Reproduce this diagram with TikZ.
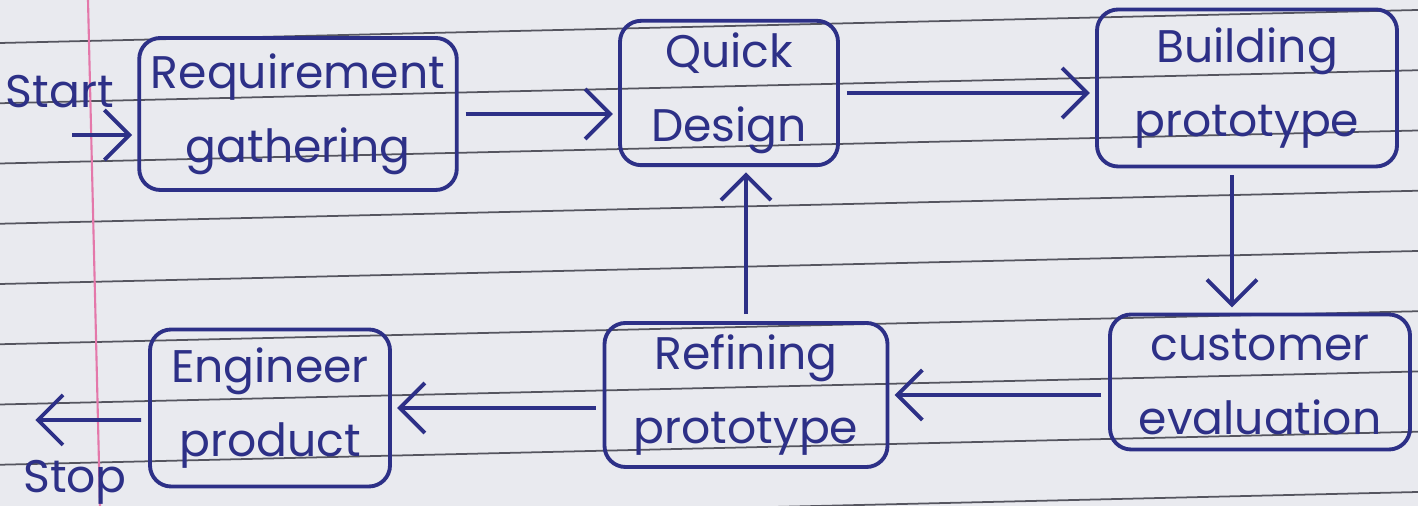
\documentclass[tikz,border=0pt]{standalone}
\usepackage{fontspec}
\setmainfont{Poppins}
\usetikzlibrary{positioning,arrows.meta}
\definecolor{ink}{RGB}{45,48,135}
\definecolor{paper}{RGB}{233,234,239}
\definecolor{rule}{RGB}{85,85,95}
\definecolor{margin}{RGB}{228,120,170}

\begin{document}
\begin{tikzpicture}[
  block/.style={rectangle, rounded corners=6pt, draw=ink, line width=1.1pt, align=center, text=ink, minimum width=2.8cm, minimum height=1.4cm, font=\fontsize{13}{21}\selectfont},
  tag/.style={text=ink, font=\fontsize{13}{16}\selectfont},
  wire/.style={draw=ink, line width=1.1pt, shorten >=1.5pt, shorten <=2pt},
  >={Straight Barb[length=2.5mm,width=5mm]},
  node distance=2cm
]
\useasboundingbox (0,0) rectangle (14.18,5.06);
\fill[paper] (0,0) rectangle (14.18,5.06);
\begin{scope}
\clip (0,0) rectangle (14.18,5.06);
\foreach \i in {0,...,8}
  \draw[rule, line width=0.5pt] (0,-0.19+0.6025*\i) -- (14.18,0.14+0.6025*\i);
\draw[margin, line width=0.6pt] (0.88,5.06) -- (1.00,0);
\end{scope}

\node[block, minimum width=2.97cm, minimum height=1.52cm] (req) at (2.98,3.92) {Requirement\\gathering};
\node[block, right of=req, node distance=4.31cm, yshift=0.21cm, minimum width=2.18cm, minimum height=1.37cm] (quick) {Quick\\Design};
\node[block, right of=quick, node distance=5.18cm, yshift=0.05cm, minimum width=3cm, minimum height=1.57cm] (build) {Building\\prototype};
\node[block, below of=build, node distance=2.94cm, xshift=0.13cm, minimum width=3cm, minimum height=1.35cm] (cust) {customer\\evaluation};
\node[block, left of=cust, node distance=5.14cm, yshift=-0.13cm, minimum width=2.83cm, minimum height=1.4cm] (refine) {Refining\\prototype};
\node[block, left of=refine, node distance=4.76cm, yshift=-0.13cm, minimum width=2.4cm, minimum height=1.57cm] (eng) {Engineer\\product};

\node[tag, left of=req, node distance=2.38cm, yshift=0.22cm] (start) {Start};
\node[tag, left of=eng, node distance=1.95cm, yshift=-0.74cm] (stop) {Stop};
\coordinate (in) at (0.65,3.71);
\coordinate (out) at (0.3,0.86);

\draw[->,wire] (in) -- ([yshift=-0.21cm]req.west);
\draw[->,wire] (req.east) -- (req.east -| quick.west);
\draw[->,wire] (quick.east) -- (quick.east -| build.west);
\draw[->,wire] ([xshift=-1.5mm]build.south) -- ([xshift=-1.5mm]build.south |- cust.north);
\draw[->,wire] (refine.east -| cust.west) -- (refine.east);
\draw[->,wire] (refine.north) -- (refine.north |- quick.south);
\draw[->,wire] (eng.east -| refine.west) -- (eng.east);
\draw[->,wire] ([yshift=-1.2mm]eng.west) -- (out);
\end{tikzpicture}
\end{document}
